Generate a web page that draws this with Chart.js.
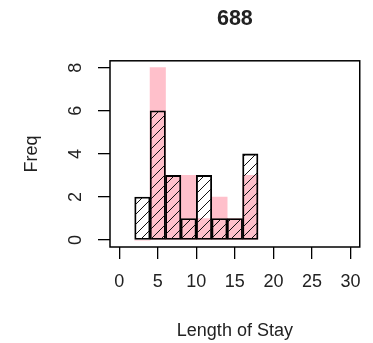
<!DOCTYPE html>
<html>
<head>
<meta charset="utf-8">
<script src="https://cdn.jsdelivr.net/npm/chart.js@4.4.1/dist/chart.umd.min.js"></script>
<style>
  html, body { margin: 0; padding: 0; background: #fff; }
  #wrap { width: 373px; height: 343px; position: relative; }
</style>
</head>
<body>
<div id="wrap"><canvas id="hist"></canvas></div>
<script>
  // Histogram bins (length of stay, width 2)
  const binEdges = [2, 4, 6, 8, 10, 12, 14, 16, 18];
  // Counts per bin for the two groups
  const freqFilled = [0, 8, 3, 3, 1, 2, 1, 3];
  const freqHatched = [2, 6, 3, 1, 3, 1, 1, 4];
  // Axis ticks
  const xTicks = [0, 5, 10, 15, 20, 25, 30];
  const yTicks = [0, 2, 4, 6, 8];

  const FONT = 'Liberation Sans, Arial, Helvetica, sans-serif';

  // build a small diagonal-line tile for the shaded bars
  function makeHatch(step) {
    const c = document.createElement('canvas');
    c.width = step;
    c.height = step;
    const g = c.getContext('2d');
    g.strokeStyle = '#111';
    g.lineWidth = 1;
    g.beginPath();
    g.moveTo(0, step);
    g.lineTo(step, 0);
    g.moveTo(-1, 1);
    g.lineTo(1, -1);
    g.moveTo(step - 1, step + 1);
    g.lineTo(step + 1, step - 1);
    g.stroke();
    return g.createPattern(c, 'repeat');
  }

  function toPoints(counts) {
    return counts.map((v, i) => ({ x: (binEdges[i] + binEdges[i + 1]) / 2, y: v }));
  }

  // plain frame around the plot region
  const boxPlugin = {
    id: 'box',
    afterDraw(chart) {
      const a = chart.chartArea;
      const ctx = chart.ctx;
      ctx.save();
      ctx.strokeStyle = '#000';
      ctx.lineWidth = 1.5;
      ctx.strokeRect(a.left, a.top, a.right - a.left, a.bottom - a.top);
      ctx.restore();
    }
  };

  const tickGrid = {
    offset: false,
    drawOnChartArea: false,
    drawTicks: true,
    tickLength: 12,
    color: '#000',
    lineWidth: 1.3
  };

  new Chart(document.getElementById('hist'), {
    type: 'bar',
    data: {
      datasets: [
        {
          label: 'hatched',
          data: toPoints(freqHatched),
          backgroundColor: makeHatch(10),
          borderColor: '#000',
          borderWidth: 1.2,
          borderSkipped: false,
          order: 0
        },
        {
          label: 'filled',
          data: toPoints(freqFilled),
          backgroundColor: '#FFC0CB',
          borderWidth: 0,
          order: 1
        }
      ]
    },
    options: {
      responsive: true,
      maintainAspectRatio: false,
      animation: false,
      layout: { padding: { left: 0, right: 8, top: 0, bottom: 0 } },
      datasets: {
        bar: { grouped: false, barPercentage: 1, categoryPercentage: 1 }
      },
      plugins: {
        legend: { display: false },
        tooltip: { enabled: false },
        title: {
          display: true,
          text: '688',
          fullSize: false,
          color: '#222',
          font: { family: FONT, size: 21.5, weight: 'bold' },
          padding: { top: 6, bottom: 29 }
        }
      },
      scales: {
        x: {
          type: 'linear',
          offset: false,
          min: -1.2,
          max: 31.2,
          afterBuildTicks: s => { s.ticks = xTicks.map(v => ({ value: v })); },
          afterFit: s => { s.height = 96; },
          grid: tickGrid,
          border: { display: false },
          ticks: {
            color: '#222',
            padding: 12,
            maxRotation: 0,
            autoSkip: false,
            font: { family: FONT, size: 18 }
          },
          title: {
            display: true,
            text: 'Length of Stay',
            color: '#222',
            font: { family: FONT, size: 18 },
            padding: { top: 0, bottom: 1 }
          }
        },
        y: {
          min: -0.32,
          max: 8.32,
          afterBuildTicks: s => { s.ticks = yTicks.map(v => ({ value: v })); },
          afterFit: s => { s.width = 110; },
          grid: tickGrid,
          border: { display: false },
          ticks: {
            color: '#222',
            padding: 17,
            minRotation: 90,
            maxRotation: 90,
            crossAlign: 'center',
            font: { family: FONT, size: 18 }
          },
          title: {
            display: true,
            text: 'Freq',
            color: '#222',
            font: { family: FONT, size: 18 },
            padding: { top: 21, bottom: 0 }
          }
        }
      }
    },
    plugins: [boxPlugin]
  });
</script>
</body>
</html>
